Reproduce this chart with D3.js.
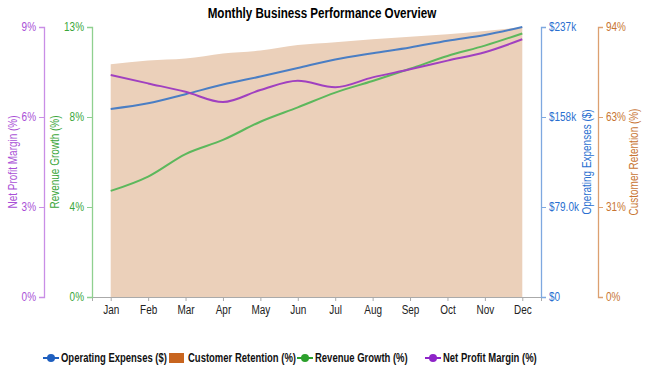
<!DOCTYPE html>
<html>
<head>
<meta charset="utf-8">
<script src="https://cdn.jsdelivr.net/npm/d3@7"></script>
<style>
  body { margin: 0; background: #fff; }
  svg text { font-family: "Liberation Sans", Arial, sans-serif; }
</style>
</head>
<body>
<svg id="chart" width="650" height="376"></svg>
<script>
const months = ['Jan', 'Feb', 'Mar', 'Apr', 'May', 'Jun', 'Jul', 'Aug', 'Sep', 'Oct', 'Nov', 'Dec']
const operatingExpenses = [165000, 170000, 178000, 186500, 193500, 201000, 208500, 214000, 219000, 225000, 230000, 237000]
const customerRetention = [81.0, 82.3, 83.0, 84.8, 85.8, 87.7, 88.7, 89.7, 90.6, 91.5, 92.6, 94.0]
const revenueGrowth = [4.95, 5.62, 6.67, 7.33, 8.18, 8.85, 9.54, 10.08, 10.65, 11.25, 11.73, 12.3]
const netProfitMargin = [7.4, 7.12, 6.84, 6.5, 6.9, 7.21, 6.99, 7.32, 7.59, 7.88, 8.16, 8.59]

const maxExpenses = 237000
const maxRetention = 94
const maxRevenue = 12.6
const maxMargin = 9

const colors = {
  expenses: '#4a7ec4', expensesText: '#2a6fd0', expensesDot: '#1f5fbf',
  retention: '#c8651f', retentionText: '#c87533', retentionFill: '#ebd0ba',
  revenue: '#5cb85c', revenueText: '#3aa63a', revenueDot: '#2ca02c',
  margin: '#a040c0', marginText: '#a94fd6', marginDot: '#8e24c8'
}

const svg = d3.select('#chart')
const margin = { top: 27, bottom: 79, left: 92, right: 109 }
const width = 650 - margin.left - margin.right
const height = 376 - margin.top - margin.bottom

const x = d3.scalePoint().domain(months).range([margin.left, margin.left + width]).padding(0.5)
const yExp = d3.scaleLinear().domain([0, maxExpenses]).range([margin.top + height, margin.top])
const yRet = d3.scaleLinear().domain([0, maxRetention]).range([margin.top + height, margin.top])
const yRev = d3.scaleLinear().domain([0, maxRevenue]).range([margin.top + height, margin.top])
const yMar = d3.scaleLinear().domain([0, maxMargin]).range([margin.top + height, margin.top])

const thirds = max => [0, max / 3, 2 * max / 3, max]

// title
svg.append('text')
  .attr('x', 322).attr('y', 18)
  .attr('text-anchor', 'middle')
  .style('font-size', '14px').style('font-weight', 'bold')
  .text('Monthly Business Performance Overview')

// area for retention
svg.append('path')
  .datum(customerRetention)
  .attr('fill', colors.retentionFill)
  .attr('d', d3.area()
    .x((d, i) => x(months[i]))
    .y0(yRet(0))
    .y1(d => yRet(d))
    .curve(d3.curveMonotoneX))

const line = (data, y) => d3.line()
  .x((d, i) => x(months[i]))
  .y(d => y(d))
  .curve(d3.curveMonotoneX)(data)

svg.append('path').attr('d', line(operatingExpenses, yExp))
  .attr('fill', 'none').attr('stroke', colors.expenses).attr('stroke-width', 2)
svg.append('path').attr('d', line(revenueGrowth, yRev))
  .attr('fill', 'none').attr('stroke', colors.revenue).attr('stroke-width', 2)
svg.append('path').attr('d', line(netProfitMargin, yMar))
  .attr('fill', 'none').attr('stroke', colors.margin).attr('stroke-width', 2)

// x axis
const xAxis = svg.append('g')
  .attr('transform', `translate(0,${margin.top + height})`)
  .call(d3.axisBottom(x).tickSizeOuter(0).tickSize(4))
xAxis.select('.domain').attr('stroke', '#aaa')
xAxis.selectAll('.tick line').attr('stroke', '#aaa')
xAxis.selectAll('text').attr('fill', '#222').style('font-size', '12px').attr('dy', '0.85em')

function styleAxis(g, lineColor, textColor) {
  g.select('.domain').attr('stroke', lineColor).attr('stroke-width', 1.3)
  g.selectAll('.tick line').attr('stroke', lineColor)
  g.selectAll('text').attr('fill', textColor).style('font-size', '12px')
}

const pct = d => d3.format('.0f')(d) + '%'

const axMar = svg.append('g').attr('transform', 'translate(44,0)')
  .call(d3.axisLeft(yMar).tickValues(thirds(maxMargin)).tickFormat(pct).tickSizeOuter(0).tickSize(5))
styleAxis(axMar, '#c98ee6', colors.marginText)

const axRev = svg.append('g').attr('transform', `translate(${margin.left},0)`)
  .call(d3.axisLeft(yRev).tickValues(thirds(maxRevenue)).tickFormat(pct).tickSizeOuter(0).tickSize(5))
styleAxis(axRev, '#8fd08f', colors.revenueText)

const money = d => d === 0 ? '$0' : '$' + d3.format('.3s')(d)
const axExp = svg.append('g').attr('transform', `translate(${margin.left + width},0)`)
  .call(d3.axisRight(yExp).tickValues(thirds(maxExpenses)).tickFormat(money).tickSizeOuter(0).tickSize(5))
styleAxis(axExp, '#7ea8e0', colors.expensesText)

const axRet = svg.append('g').attr('transform', 'translate(598,0)')
  .call(d3.axisRight(yRet).tickValues(thirds(maxRetention)).tickFormat(pct).tickSizeOuter(0).tickSize(5))
styleAxis(axRet, '#dca070', colors.retentionText)

// axis titles
const midY = margin.top + height / 2
const axisTitle = (xPos, text, color) => svg.append('text')
  .attr('transform', `translate(${xPos},${midY}) rotate(-90)`)
  .attr('text-anchor', 'middle')
  .attr('fill', color)
  .style('font-size', '12px')
  .text(text)
axisTitle(17, 'Net Profit Margin (%)', colors.marginText)
axisTitle(59, 'Revenue Growth (%)', colors.revenueText)
axisTitle(591, 'Operating Expenses ($)', colors.expensesText)
axisTitle(638, 'Customer Retention (%)', colors.retentionText)

// the original used a narrow face; squeeze the text to match
svg.selectAll('text').each(function () {
  const w = this.getComputedTextLength()
  d3.select(this).attr('textLength', w * 0.83).attr('lengthAdjust', 'spacingAndGlyphs')
})

// legend
const legendY = 358
const legendItems = [
  { label: 'Operating Expenses ($)', type: 'line', color: colors.expensesDot, x: 43 },
  { label: 'Customer Retention (%)', type: 'rect', color: colors.retention, x: 169 },
  { label: 'Revenue Growth (%)', type: 'line', color: colors.revenueDot, x: 297 },
  { label: 'Net Profit Margin (%)', type: 'line', color: colors.marginDot, x: 425 }
]
const lg = svg.append('g')
legendItems.forEach(item => {
  const g = lg.append('g').attr('transform', `translate(${item.x},${legendY})`)
  if (item.type === 'line') {
    g.append('line').attr('x1', 0).attr('x2', 16).attr('y1', 0).attr('y2', 0)
      .attr('stroke', item.color).attr('stroke-width', 2)
    g.append('circle').attr('cx', 8).attr('cy', 0).attr('r', 4).attr('fill', item.color)
  } else {
    g.append('rect').attr('x', 0).attr('y', -5).attr('width', 15).attr('height', 10).attr('fill', item.color)
  }
  const t = g.append('text').attr('x', item.type === 'line' ? 18 : 19).attr('y', 0).attr('dy', '0.35em')
    .style('font-size', '12px').style('font-weight', 'bold').attr('fill', '#111')
    .text(item.label)
  t.attr('textLength', t.node().getComputedTextLength() * 0.79).attr('lengthAdjust', 'spacingAndGlyphs')
})
</script>
</body>
</html>
